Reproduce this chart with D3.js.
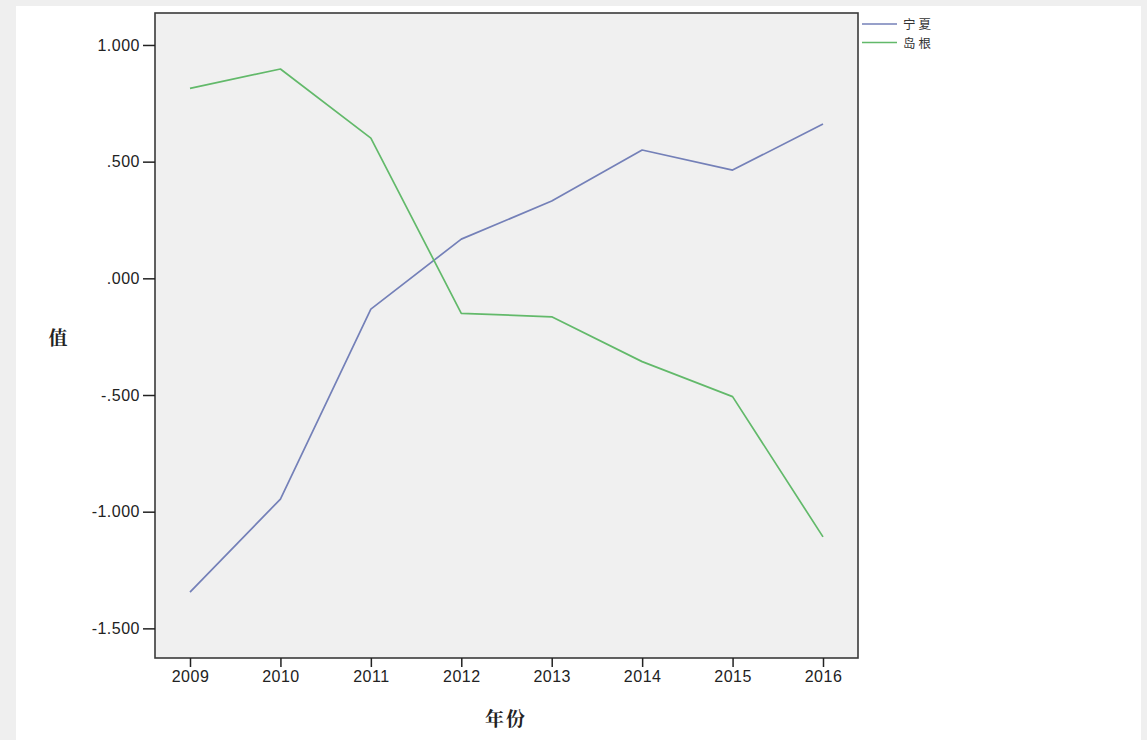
<!DOCTYPE html>
<html>
<head>
<meta charset="utf-8">
<script src="https://d3js.org/d3.v7.min.js"></script>
<style>
  body { margin: 0; background: #efefef; }
  svg { display: block; }
</style>
</head>
<body>
<svg id="chart" width="1147" height="740"></svg>
<script>
// data
var years = [2009, 2010, 2011, 2012, 2013, 2014, 2015, 2016];
var ningxia = [-1.345, -0.946, -0.132, 0.168, 0.331, 0.550, 0.464, 0.661];
var shimane = [0.814, 0.897, 0.601, -0.150, -0.165, -0.357, -0.507, -1.108];
var seriesNames = ["宁夏", "岛根"];
var yTicks = [1.0, 0.5, 0.0, -0.5, -1.0, -1.5];

var colors = ["#7480b8", "#62b96a"];

var svg = d3.select("#chart");

// white panel on light grey page
svg.append("rect")
  .attr("x", 16).attr("y", 6)
  .attr("width", 1125).attr("height", 740)
  .attr("fill", "#ffffff");

var plotL = 155, plotT = 13, plotR = 858, plotB = 658;

var x = d3.scalePoint()
  .domain(years)
  .range([190, 823]);

var y = d3.scaleLinear()
  .domain([-1.627, 1.137])
  .range([plotB, plotT]);

// plot background
svg.append("rect")
  .attr("x", plotL).attr("y", plotT)
  .attr("width", plotR - plotL).attr("height", plotB - plotT)
  .attr("fill", "#f0f0f0");

var line = d3.line()
  .x(function(d, i) { return x(years[i]); })
  .y(function(d) { return y(d); });

[ningxia, shimane].forEach(function(s, i) {
  svg.append("path")
    .datum(s)
    .attr("fill", "none")
    .attr("stroke", colors[i])
    .attr("stroke-width", 1.7)
    .attr("stroke-linejoin", "round")
    .attr("d", line);
});

// frame
svg.append("rect")
  .attr("x", plotL).attr("y", plotT)
  .attr("width", plotR - plotL).attr("height", plotB - plotT)
  .attr("fill", "none")
  .attr("stroke", "#3a3a3a")
  .attr("stroke-width", 1.6);

// axes, SPSS style ".500" / "-.500"
var fmt = function(d) {
  var s = d3.format(".3f")(Math.abs(d)).replace(/^0\./, ".");
  return (d < 0 ? "-" : "") + s;
};

var yAxis = svg.append("g")
  .attr("transform", "translate(" + plotL + ",0)")
  .call(d3.axisLeft(y).tickValues(yTicks).tickSize(12).tickPadding(3).tickFormat(fmt));

var xAxis = svg.append("g")
  .attr("transform", "translate(0," + plotB + ")")
  .call(d3.axisBottom(x).tickSize(9).tickPadding(4).tickFormat(d3.format("d")));

[yAxis, xAxis].forEach(function(a) {
  a.select(".domain").remove();
  a.selectAll(".tick line").attr("stroke", "#222").attr("stroke-width", 1.5);
  a.selectAll(".tick text")
    .attr("fill", "#222")
    .style("font-family", "'Liberation Sans', Arial, sans-serif")
    .style("font-size", "16px")
    .style("letter-spacing", "0.5px");
});

// axis titles
svg.append("text")
  .attr("x", 58).attr("y", 345)
  .attr("text-anchor", "middle")
  .style("font-family", "'Noto Serif CJK SC', 'Noto Sans CJK SC', serif")
  .style("font-size", "19px")
  .style("font-weight", "bold")
  .attr("fill", "#222")
  .text("值");

svg.append("text")
  .attr("x", 506).attr("y", 726)
  .attr("text-anchor", "middle")
  .style("font-family", "'Noto Serif CJK SC', 'Noto Sans CJK SC', serif")
  .style("font-size", "19px")
  .style("font-weight", "bold")
  .style("letter-spacing", "2px")
  .attr("fill", "#222")
  .text("年份");

// legend
var legend = svg.append("g");
seriesNames.forEach(function(name, i) {
  var ly = 24 + i * 18.5;
  legend.append("line")
    .attr("x1", 862).attr("x2", 897)
    .attr("y1", ly).attr("y2", ly)
    .attr("stroke", colors[i])
    .attr("stroke-width", 1.5);
  legend.append("text")
    .attr("x", 903).attr("y", ly + 5)
    .style("font-family", "'Noto Sans CJK SC', sans-serif")
    .style("font-size", "12.5px")
    .style("letter-spacing", "3px")
    .attr("fill", "#333")
    .text(name);
});
</script>
</body>
</html>
